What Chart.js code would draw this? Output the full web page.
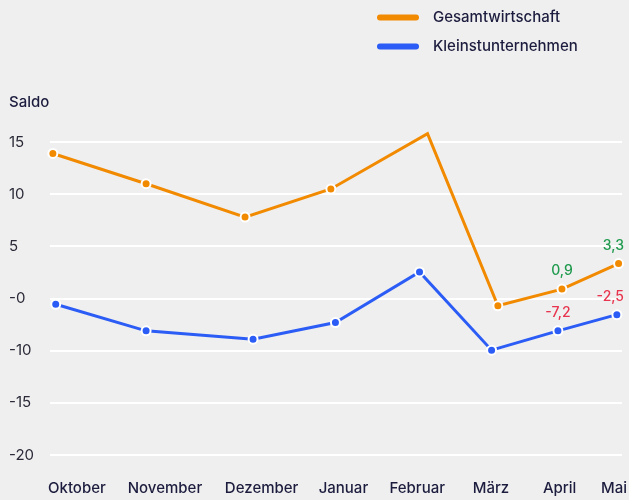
<!DOCTYPE html>
<html>
<head>
<meta charset="utf-8">
<script src="https://cdn.jsdelivr.net/npm/chart.js@4/dist/chart.umd.min.js"></script>
<style>
  html, body { margin: 0; padding: 0; background: #efefef; }
  #wrap { position: relative; width: 629px; height: 500px; }
</style>
</head>
<body>
<div id="wrap"><canvas id="chart" width="629" height="500"></canvas></div>
<script>
// Data
const categories = ['Oktober', 'November', 'Dezember', 'Januar', 'Februar', 'März', 'April', 'Mai']
const monthTicks = [4.7, 20.1, 37.0, 51.3, 64.2, 77.1, 89.1, 98.6]

const gesamtX = [0.5, 16.8, 34.1, 49.1, 66.0, 78.3, 89.5, 99.4]
const gesamtY = [13.9, 11.0, 7.8, 10.5, 15.8, -0.7, 0.9, 3.35]
const gesamtNotes = [null, null, null, null, null, null, '0,9', '3,3']

const kleinstX = [1.0, 16.8, 35.5, 49.9, 64.6, 77.2, 88.8, 99.1]
const kleinstY = [-0.55, -3.1, -3.9, -2.3, 2.55, -4.95, -3.1, -1.55]
const kleinstNotes = [null, null, null, null, null, null, '-7,2', '-2,5']

const yTickValues = [15, 10, 5, 0, -5, -10, -15]
const yTickLabels = ['15', '10', '5', '-0', '-10', '-15', '-20']

const NAVY = '#1c1c3e'
const ORANGE = '#f28a00'
const BLUE = '#2b5cf5'

Chart.defaults.font.family = 'Inter, "Noto Sans", sans-serif'
Chart.defaults.font.size = 15
Chart.defaults.color = NAVY

const toPoints = (xs, ys) => xs.map((x, i) => ({ x: x, y: ys[i] }))

// legend + "Saldo" label, drawn from the datasets
const legendPlugin = {
    id: 'sideLegend',
    afterDraw(chart) {
        const ctx = chart.ctx
        ctx.save()
        chart.data.datasets.forEach((ds, i) => {
            const y = 17.5 + i * 29
            ctx.strokeStyle = ds.borderColor
            ctx.lineWidth = 6
            ctx.lineCap = 'round'
            ctx.beginPath()
            ctx.moveTo(380, y)
            ctx.lineTo(416, y)
            ctx.stroke()
            ctx.fillStyle = NAVY
            ctx.font = '500 15px Inter, "Noto Sans", sans-serif'
            ctx.textBaseline = 'middle'
            ctx.textAlign = 'left'
            ctx.fillText(ds.label, 433, y)
        })
        ctx.fillStyle = NAVY
        ctx.font = '500 15px Inter, "Noto Sans", sans-serif'
        ctx.textBaseline = 'middle'
        ctx.fillText('Saldo', 9, 102)
        ctx.restore()
    }
}

// value notes above the last points
const notesPlugin = {
    id: 'notes',
    afterDatasetsDraw(chart) {
        const ctx = chart.ctx
        ctx.save()
        ctx.font = '500 14px Inter, "Noto Sans", sans-serif'
        ctx.textAlign = 'center'
        ctx.textBaseline = 'middle'
        chart.data.datasets.forEach((ds, di) => {
            const meta = chart.getDatasetMeta(di)
            ds.notes.forEach((txt, i) => {
                if (!txt) return
                const pt = meta.data[i]
                const w = ctx.measureText(txt).width
                let x = pt.x
                if (x + w / 2 > chart.width - 5) x = chart.width - 5 - w / 2
                ctx.fillStyle = ds.noteColor
                ctx.fillText(txt, x, pt.y - 18)
            })
        })
        ctx.restore()
    }
}

const ctx = document.getElementById('chart')
const chart = new Chart(ctx, {
    type: 'line',
    data: {
        datasets: [{
            label: 'Gesamtwirtschaft',
            data: toPoints(gesamtX, gesamtY),
            notes: gesamtNotes,
            noteColor: '#1f9a4e',
            borderColor: ORANGE,
            backgroundColor: ORANGE,
            borderWidth: 3,
            pointRadius: 4.5,
            pointBorderWidth: 2,
            pointBorderColor: '#ffffff',
            pointBackgroundColor: ORANGE,
            clip: false
        }, {
            label: 'Kleinstunternehmen',
            data: toPoints(kleinstX, kleinstY),
            notes: kleinstNotes,
            noteColor: '#e8344e',
            borderColor: BLUE,
            backgroundColor: BLUE,
            borderWidth: 3,
            pointRadius: 4.5,
            pointBorderWidth: 2,
            pointBorderColor: '#ffffff',
            pointBackgroundColor: BLUE,
            clip: false
        }]
    },
    options: {
        responsive: false,
        animation: false,
        layout: {
            padding: { left: 9, right: 7, top: 142, bottom: 2 }
        },
        plugins: {
            legend: { display: false },
            tooltip: { enabled: false }
        },
        scales: {
            x: {
                type: 'linear',
                min: 0,
                max: 100,
                grid: { display: false, drawTicks: false },
                border: { display: false },
                afterBuildTicks: (scale) => {
                    scale.ticks = monthTicks.map(v => ({ value: v }))
                },
                afterFit: (scale) => {
                    scale.height = 43
                    scale.paddingLeft = 0
                    scale.paddingRight = 0
                },
                ticks: {
                    autoSkip: false,
                    maxRotation: 0,
                    padding: 24,
                    color: NAVY,
                    font: { size: 15, weight: 500 },
                    callback: (value, index) => categories[index]
                }
            },
            y: {
                min: -15,
                max: 15,
                grid: { color: '#ffffff', lineWidth: 2, drawTicks: false },
                border: { display: false },
                afterBuildTicks: (scale) => {
                    scale.ticks = yTickValues.slice().reverse().map(v => ({ value: v }))
                },
                afterFit: (scale) => { scale.width = 41 },
                ticks: {
                    crossAlign: 'far',
                    color: '#2a2a38',
                    font: { size: 15 },
                    callback: (value) => yTickLabels[yTickValues.indexOf(value)]
                }
            }
        }
    },
    plugins: [legendPlugin, notesPlugin]
})
</script>
</body>
</html>
